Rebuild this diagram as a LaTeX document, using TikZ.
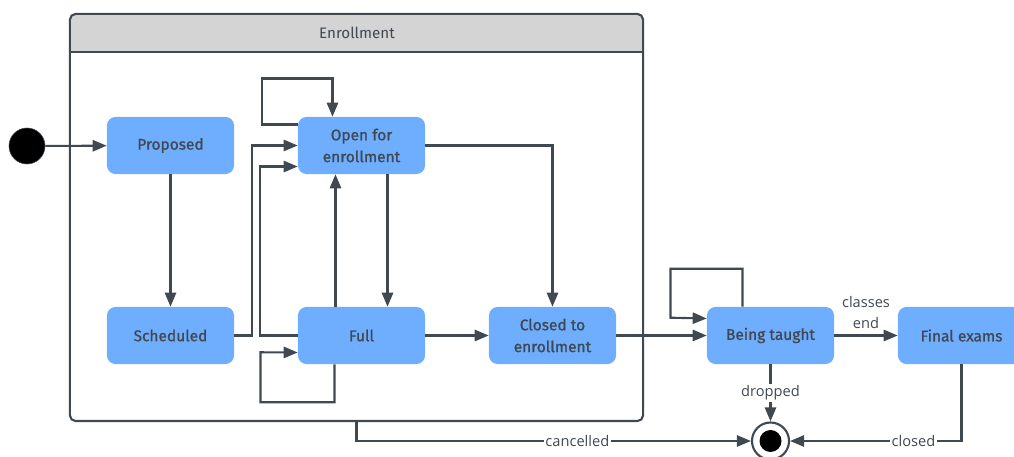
\documentclass[tikz,border=0pt]{standalone}
\usepackage{fontspec}
\setmainfont{Fira Sans}
\newfontfamily\statefont{Fira Sans}[FakeBold=1]
\newfontfamily\labelfont{Open Sans}
\usetikzlibrary{arrows.meta}
\definecolor{stateblue}{RGB}{111,174,255}
\definecolor{linegray}{RGB}{64,72,82}
\definecolor{headgray}{RGB}{212,212,212}

\begin{document}
\begin{tikzpicture}[x=0.025cm,y=-0.025cm]
\tikzstyle{state}=[rectangle, rounded corners=6pt, fill=stateblue, text=linegray, minimum width=3.175cm, minimum height=1.425cm, align=center, font=\statefont\fontsize{11}{15.5}\selectfont]
\tikzstyle{arr}=[draw=linegray, line width=1.5pt, -{Triangle[length=10pt,width=8pt]}]
\tikzstyle{lbl}=[fill=white, text=linegray, inner sep=1pt, align=center, font=\labelfont\fontsize{10.4}{15}\selectfont]

\useasboundingbox (0,0) rectangle (1014,457);

\fill[headgray, rounded corners=4pt] (70,52) -- (70,14) -- (643,14) -- (643,52);
\node[rectangle, draw=linegray, line width=1.5pt, rounded corners=4pt,
    minimum width=14.325cm, minimum height=10.175cm] (enroll) at (356.5,217.5) {};
\draw[linegray, line width=1.5pt] (enroll.west |- 0,52) -- (enroll.east |- 0,52);
\node[text=linegray, font=\fontsize{10.8}{12}\selectfont] (enrolltitle) at (357,33) {Enrollment};

\node[circle, fill=black, draw=linegray, minimum size=0.9cm, inner sep=0pt] (start) at (27,146) {};

\node[state] (proposed) at (170.5,145.5) {Proposed};
\node[state] (open) at (361.5,145.5) {Open for\\enrollment};
\node[state] (sched) at (170.5,335.5) {Scheduled};
\node[state] (full) at (361.5,335.5) {Full};
\node[state] (closed) at (552.5,335.5) {Closed to\\enrollment};
\node[state] (taught) at (770.5,335.5) {Being taught};
\node[state] (exams) at (961.5,335.5) {Final exams};

\node[circle, draw=linegray, line width=1.5pt, fill=white, minimum size=0.925cm, inner sep=0pt] (final) at (770.5,441) {};
\node[circle, fill=black, minimum size=0.55cm, inner sep=0pt] (finaldot) at (final) {};

\draw[arr] (start) -- (proposed);
\draw[arr] (proposed) -- (sched);
\draw[arr] (sched.east) -- ++(18,0) |- (open.west);
\draw[arr] (full.west) -- ++(-38,0) |- ([yshift=-0.525cm]open.west);
\draw[arr] ([yshift=0.525cm]open.west) -| ++(-36,-46) -| ([xshift=-0.725cm]open.north);
\draw[arr] ([xshift=-0.65cm]full.north) -- ([xshift=-0.65cm]open.south);
\draw[arr] ([xshift=0.65cm]open.south) -- ([xshift=0.65cm]full.north);
\draw[arr] ([xshift=-0.675cm]full.south) -- ++(0,38) -| ++(-74,-50) -- ([yshift=-0.425cm]full.west);
\draw[arr] (open.east) -| (closed.north);
\draw[arr] (full) -- (closed);
\draw[arr] (closed) -- (taught);
\draw[arr] ([xshift=-0.7cm]taught.north) -- ++(0,-38) -| ++(-72,49) -- ([yshift=0.425cm]taught.west);
\draw[arr] (taught) -- node[lbl, fill=none, above=3pt] {classes\\end} (exams);
\draw[arr] (taught) -- node[lbl] {dropped} (final);
\draw[arr] (exams.south) |- node[lbl, pos=0.64] {closed} (final.east);
\draw[arr] (enroll.south) |- node[lbl, pos=0.78] {cancelled} (final.west);
\end{tikzpicture}
\end{document}
